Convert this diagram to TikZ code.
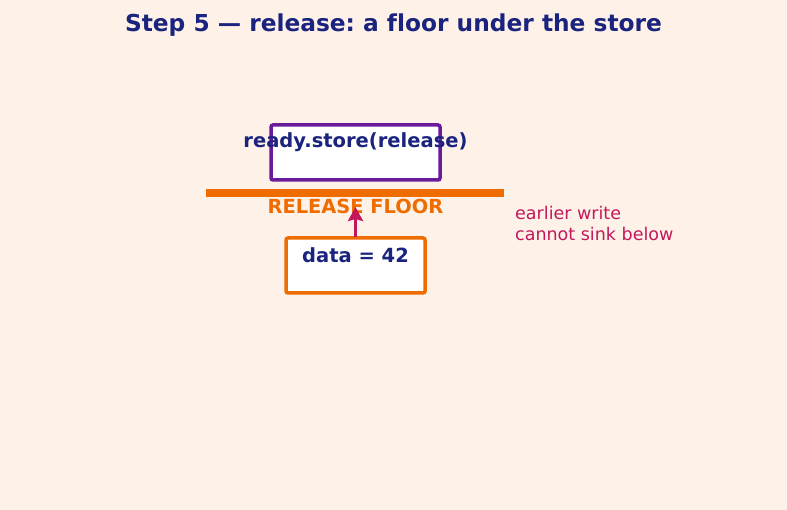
\documentclass[tikz,border=0pt]{standalone}
\usepackage{fontspec}
\setmainfont{DejaVu Sans}[Ligatures=NoCommon]
\usetikzlibrary{arrows.meta}
\definecolor{bg}{HTML}{FEF2E8}
\definecolor{navy}{HTML}{1A237E}
\definecolor{purp}{HTML}{6A1B9A}
\definecolor{orng}{HTML}{EF6C00}
\definecolor{crim}{HTML}{C2185B}
\tikzset{
  box/.style={line width=3.5pt, fill=white, rounded corners=2pt},
  lbl/.style={font=\bfseries\fontsize{19.5}{22}\selectfont, text=navy, inner sep=0pt},
}
\frenchspacing
\begin{document}
\begin{tikzpicture}[x=1pt,y=-1pt]
\fill[bg] (0,0) rectangle (787,510);
\useasboundingbox (0,0) rectangle (787,510);
\node[font=\bfseries\fontsize{23.3}{26}\selectfont, text=navy] (title) at (393.5,25) {Step 5 — release: a floor under the store};
\draw[box, draw=purp] (271,125) rectangle (440,180);
\node[lbl] (ptext) at (355.5,142.5) {ready.store(release)};
\draw[box, draw=orng] (286,238) rectangle (425,293);
\node[lbl] (otext) at (355.5,255.5) {data = 42};
\coordinate (fl) at (206,193);
\coordinate (fr) at (504,193);
\draw[orng, line width=8pt] (fl) -- (fr);
\node[font=\bfseries\fontsize{19.4}{22}\selectfont, text=orng, inner sep=0pt] (floor) at (355.5,206.5) {RELEASE FLOOR};
\coordinate (abot) at (355.5,237);
\coordinate (atop) at (355.5,207);
\draw[crim, line width=3pt, -{Stealth[length=14pt,width=15pt,inset=2pt]}] (abot) -- (atop);
\node[font=\fontsize{17.5}{21}\selectfont, text=crim, align=left, anchor=west, inner sep=0pt] (note) at (515,223.5) {earlier write\\cannot sink below};
\end{tikzpicture}
\end{document}
